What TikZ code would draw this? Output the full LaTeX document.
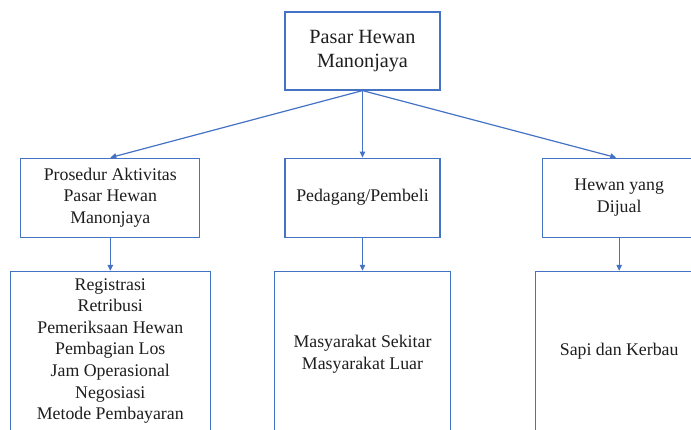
\documentclass[tikz,border=0pt]{standalone}
\usepackage{fontspec}
\setmainfont{Liberation Serif}
\usepackage{xcolor}
\usetikzlibrary{positioning,arrows.meta}

\definecolor{wordblue}{RGB}{68,114,196}
\definecolor{txt}{RGB}{30,30,30}

\begin{document}
\begin{tikzpicture}[x=1pt,y=-1pt,
 box/.style={draw=wordblue,line width=1.2pt,align=center,inner sep=0pt,fill=white,
             text=txt,font=\fontsize{17.8}{21.6}\selectfont},
 topbox/.style={box,minimum width=155pt,minimum height=78pt,
             font=\fontsize{20.2}{23.2}\selectfont},
 midbox/.style={box,minimum height=79pt},
 lowbox/.style={box,minimum height=159pt},
 arr/.style={-{Triangle[length=6pt,width=5.5pt]},draw=wordblue,line width=1.2pt}
]
\useasboundingbox (0,0) rectangle (691,430);
\clip (0,0) rectangle (691,430);

\node[topbox] (pasar) at (362.5,51) {Pasar Hewan\\Manonjaya};
\node[midbox,minimum width=155pt,below=67pt of pasar] (pelaku) {Pedagang/Pembeli};
\node[midbox,minimum width=179pt,left=84pt of pelaku] (prosedur) {Prosedur Aktivitas\\Pasar Hewan\\Manonjaya};
\node[midbox,minimum width=154pt,right=101pt of pelaku] (hewan) {Hewan yang\\Dijual};

\node[lowbox,minimum width=200pt,below=33pt of prosedur] (kegiatan)
  {Registrasi\\Retribusi\\Pemeriksaan Hewan\\Pembagian Los\\Jam Operasional\\Negosiasi\\Metode Pembayaran};
\node[box,minimum width=176pt,minimum height=166pt,below=33pt of pelaku] (masyarakat)
  {Masyarakat Sekitar\\Masyarakat Luar};
\node[lowbox,minimum width=168pt,below=33pt of hewan] (ternak) {Sapi dan Kerbau};

\draw[arr] (pasar.south)--(prosedur.north);
\draw[arr] (pasar.south)--(pelaku.north);
\draw[arr] (pasar.south)--([xshift=-3pt]hewan.north);
\draw[arr] (prosedur)--(kegiatan);
\draw[arr] (pelaku)--(masyarakat);
\draw[arr] (hewan)--(ternak);
\end{tikzpicture}
\end{document}
